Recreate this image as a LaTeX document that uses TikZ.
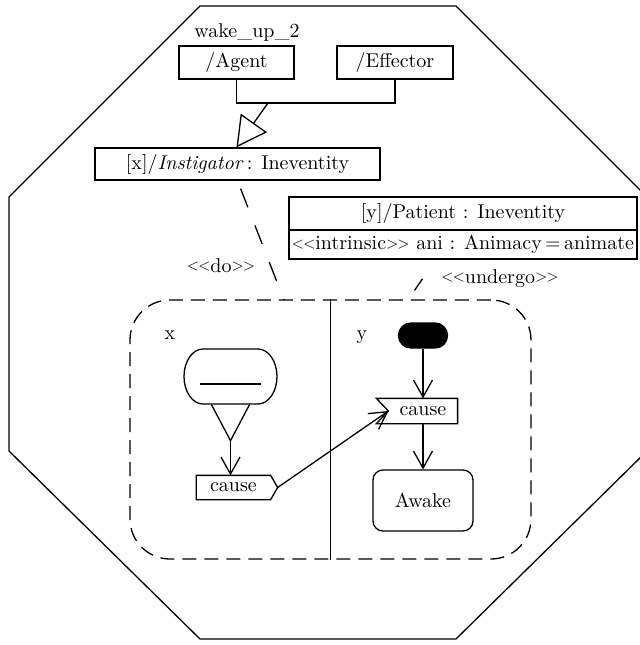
\documentclass[tikz,border=0pt]{standalone}
\usepackage{graphicx}
\usetikzlibrary{arrows.meta,calc}
% stereotype brackets: two narrow angle brackets on each side
\newcommand\anglemark[1]{\raisebox{0.55pt}{\scalebox{0.78}{#1}}}
\newcommand\stereo[1]{\anglemark{<}\kern-0.4pt\anglemark{<}#1\anglemark{>}\kern-0.4pt\anglemark{>}}
\begin{document}
\begin{tikzpicture}[x=0.5pt,y=-0.5pt,
  line width=0.65pt,
  every node/.style={font=\fontsize{10}{12}\selectfont, inner sep=0pt},
  box/.style={draw, rectangle, inner sep=0pt},
  vtip/.style={-{Straight Barb[length=8.5pt,width=9.5pt]}},
  gen/.style={-{Triangle[open,length=15pt,width=16pt]}},
  regionline/.style={dash pattern=on 7pt off 4pt}]
\useasboundingbox (0,0) rectangle (640,645);

% octagonal frame
\draw (200,6) -- (456,6) -- (647,197) -- (647,451) -- (456,639) -- (200,639)
      -- (9,451) -- (9,197) -- cycle;

% roles and generalization
\node[anchor=base] (title) at (247,37) {wake\_up\_2};
\node[box, minimum width=57.5pt, minimum height=16.5pt] (agent) at (236.5,62.5) {/Agent};
\node[box, minimum width=58pt, minimum height=16.5pt] (effector) at (395,62.5) {/Effector};
\node[box, minimum width=142.5pt, minimum height=16pt] (instig) at (237.5,164)
  {[x]/\textit{Instigator}\,: Ineventity};
\coordinate (gj) at (268,103);
\draw (agent.south) |- (gj) -| (effector.south);
\draw[gen] (gj) -- (agent.south |- instig.north);

% patient class with attribute compartment
\node[box, minimum width=174pt, minimum height=16.5pt] (ptitle) at (463,213.5)
  {[y]/Patient : Ineventity};
\node[box, minimum width=174pt, minimum height=14.5pt] (pattr) at (463,244.5)
  {\stereo{intrinsic} ani : Animacy\,=\,animate};

% partitioned activity region
\node[draw, regionline, rounded corners=20pt, minimum width=200.5pt,
      minimum height=129.5pt] (region) at (330.5,429.5) {};
\draw (region.north) -- (region.south);
\node[anchor=base] (lx) at (170,339) {x};
\node[anchor=base] (ly) at (362,339) {y};

% dependency links with stereotypes
\coordinate (doB) at (284,300);
\draw[dash pattern=on 10pt off 9.75pt, dash phase=15.5pt] (instig.south) -- (doB);
\node[anchor=base] (do) at (221,272) {\stereo{do}};
\coordinate (ugA) at (436,259);
\coordinate (ugB) at (408,300);
\draw[dash pattern=on 7pt off 19pt, dash phase=14pt] (ugA) -- (ugB);
\node[anchor=base] (undergo) at (500,283) {\stereo{undergo}};

% partition x: state with elliptic ends and a bar inside
\node[minimum width=46.5pt, minimum height=27.5pt] (lstate) at (230.5,376.5) {};
\draw[shift={(lstate.center)}]
  (-27.5,-27.5) -- (27.5,-27.5)
  .. controls (38,-27.5) and (46.5,-15.2) .. (46.5,0)
  .. controls (46.5,15.2) and (38,27.5) .. (27.5,27.5)
  -- (-27.5,27.5)
  .. controls (-38,27.5) and (-46.5,15.2) .. (-46.5,0)
  .. controls (-46.5,-15.2) and (-38,-27.5) .. (-27.5,-27.5) -- cycle;
\draw[line width=1.1pt] ($(lstate.center)+(-30.5,7.5)$) -- ($(lstate.center)+(30.5,7.5)$);
\coordinate (lapex) at ($(lstate.south)+(0,36)$);
\draw ($(lstate.south)+(-19,0)$) -- (lapex) -- ($(lstate.south)+(19,0)$);
\node[minimum width=36.5pt, minimum height=11.5pt] (send) at (233.5,487.5) {cause};
\coordinate (sendtip) at ($(send.east)+(7,0)$);
\draw (send.north west) -- (send.north east) -- (sendtip) -- (send.south east)
      -- (send.south west) -- cycle;
\draw[vtip] (lapex) -- (lapex |- send.north);

% partition y
\node[draw, fill=black, rounded corners=6.2pt, minimum width=24.5pt,
      minimum height=12.5pt] (init) at (423,335.5) {};
\node[minimum width=34pt, minimum height=12pt] (recv) at (423,411) {cause};
\draw ($(recv.north west)+(-12,0)$) -- (recv.north east) -- (recv.south east)
      -- ($(recv.south west)+(-12,0)$) -- (recv.west) -- cycle;
\node[draw, rounded corners=5pt, minimum width=50pt, minimum height=30.5pt]
  (awake) at (423,500.5) {Awake};
\draw[vtip] (init.south) -- (recv.north);
\draw[vtip] (recv.south) -- (awake.north);
\draw[vtip] (sendtip) -- (recv.west);
\end{tikzpicture}
\end{document}
